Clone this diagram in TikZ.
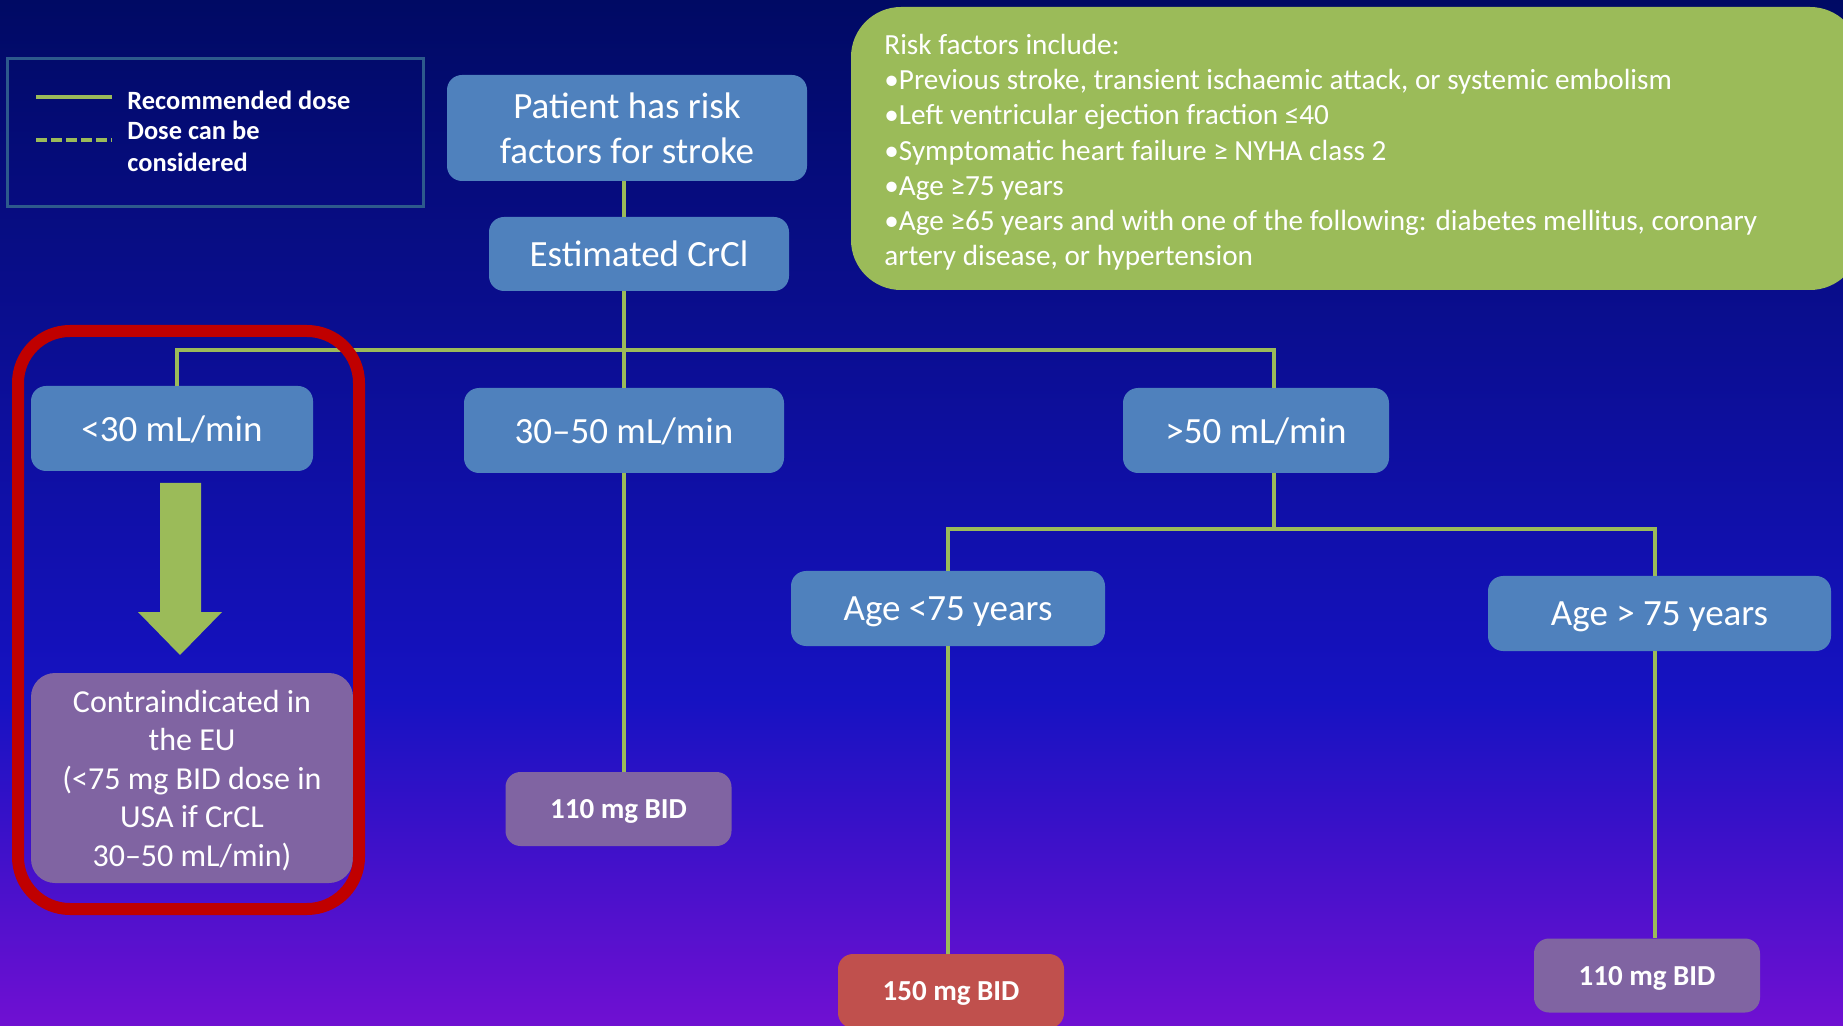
\documentclass[tikz,border=0pt]{standalone}
\usepackage{fontspec}
\setmainfont{Carlito}
\usepackage{tikz}
\usetikzlibrary{calc}
\definecolor{bgtop}{RGB}{0,10,100}
\definecolor{bgmid}{RGB}{22,18,194}
\definecolor{bgbot}{RGB}{112,16,210}
\definecolor{boxblue}{RGB}{79,129,189}
\definecolor{boxpurple}{RGB}{128,100,162}
\definecolor{boxred}{RGB}{192,80,77}
\definecolor{leafgreen}{RGB}{155,187,89}
\definecolor{framered}{RGB}{192,0,0}
\definecolor{legendedge}{RGB}{45,90,140}
\tikzset{
  bluebox/.style={fill=boxblue,rounded corners=7.5pt,text=white,align=center,
    font=\fontsize{18.5}{22.5}\selectfont,inner sep=0pt,text depth=0pt},
  dosebox/.style={fill=boxpurple,rounded corners=7.5pt,text=white,
    font=\bfseries\fontsize{14.5}{17.5}\selectfont,text depth=0pt,
    minimum width=113pt,minimum height=37pt,inner sep=0pt},
  link/.style={leafgreen,line width=2pt},
  legtext/.style={text=white,font=\bfseries\fontsize{13.2}{16}\selectfont,inner sep=0pt},
}

\begin{document}
\begin{tikzpicture}[x=0.5pt,y=-0.5pt]
\useasboundingbox (0,0) rectangle (1843,1026);
\clip (0,0) rectangle (1843,1026);
\shade[top color=bgtop,bottom color=bgmid] (0,0) rectangle (1843,700);
\shade[top color=bgmid,bottom color=bgbot] (0,699) rectangle (1843,1026);

% legend
\draw[legendedge,line width=1.5pt] (7,59) rectangle (423,207);
\draw[link] (36,97) -- (112,97);
\draw[link,dash pattern=on 5.5pt off 2pt] (36,140) -- (112,140);
\node[legtext,anchor=west] (legrec) at (127,100) {Recommended dose};
\node[legtext,anchor=north west,align=left] (legcon) at (127,121) {Dose can be\\considered};

% risk factors
\fill[leafgreen,rounded corners=25pt] (851,7) rectangle (1860,290);
\node[anchor=north west,align=left,text=white,inner sep=0pt,
  font=\fontsize{14.6}{17.65}\selectfont] (risk) at (884,33.5)
  {Risk factors include:\\
   •Previous stroke, transient ischaemic attack, or systemic embolism\\
   •Left ventricular ejection fraction ≤40\\
   •Symptomatic heart failure ≥ NYHA class 2\\
   •Age ≥75 years\\
   •Age ≥65 years and with one of the following: diabetes mellitus, coronary\\
   artery disease, or hypertension};

% tree
\node[bluebox,minimum width=180pt,minimum height=53pt] (patient) at (627,128) {Patient has risk\\factors for stroke};
\node[bluebox,minimum width=150pt,minimum height=37pt] (crcl) at (639,254) {Estimated CrCl};
\node[bluebox,minimum width=141pt,minimum height=42.5pt] (lt30) at (172,428.5) {<30 mL/min};
\node[bluebox,minimum width=160pt,minimum height=42.5pt] (mid) at (624,430.5) {30--50 mL/min};
\node[bluebox,minimum width=133pt,minimum height=42.5pt] (gt50) at (1256,430.5) {>50 mL/min};
\node[bluebox,minimum width=157pt,minimum height=37.5pt] (agelo) at (948,608.5) {Age <75 years};
\node[bluebox,minimum width=171.5pt,minimum height=37.5pt] (agehi) at (1659.5,613.5) {Age > 75 years};
\node[dosebox] (dose110a) at (618.5,809) {110 mg BID};
\node[dosebox,fill=boxred] (dose150) at (951,991) {150 mg BID};
\node[dosebox] (dose110b) at (1647,975.5) {110 mg BID};
\node[fill=boxpurple,rounded corners=12pt,text=white,align=center,inner sep=0pt,
  font=\fontsize{16}{19.25}\selectfont,text depth=0pt,minimum width=161pt,minimum height=105pt]
  (contra) at (192,778) {Contraindicated in\\the EU\\(<75 mg BID dose in\\USA if CrCL\\30--50 mL/min)};

% connectors
\coordinate (lodrop) at (177,350);
\coordinate (gtdrop) at (1274,350);
\coordinate (trunk) at (624,350);
\coordinate (agefork) at (1274,529);
\coordinate (hidrop) at (1655,529);
\draw[link] (patient.south -| trunk) -- (crcl.north -| trunk);
\draw[link] (crcl.south -| trunk) -- (mid.north);
\draw[link] (lt30.north -| lodrop) -- (lodrop) -- (gtdrop) -- (gt50.north -| gtdrop);
\draw[link] (gt50.south -| gtdrop) -- (agefork);
\draw[link] (agelo.north) |- (agefork) -| (agehi.north -| hidrop);
\draw[link] (mid.south) -- (mid.south |- dose110a.north);
\draw[link] (agelo.south) -- (agelo.south |- dose150.north);
\draw[link] (agehi.south -| hidrop) -- (dose110b.north -| hidrop);

% block arrow and frame
\fill[leafgreen] (160,483) -- (201,483) -- (201,612) -- (222,612) -- (180,655) -- (138,612) -- (160,612) -- cycle;
\draw[framered,line width=6pt,rounded corners=26pt] (18,331) rectangle (359,909);
\end{tikzpicture}
\end{document}
